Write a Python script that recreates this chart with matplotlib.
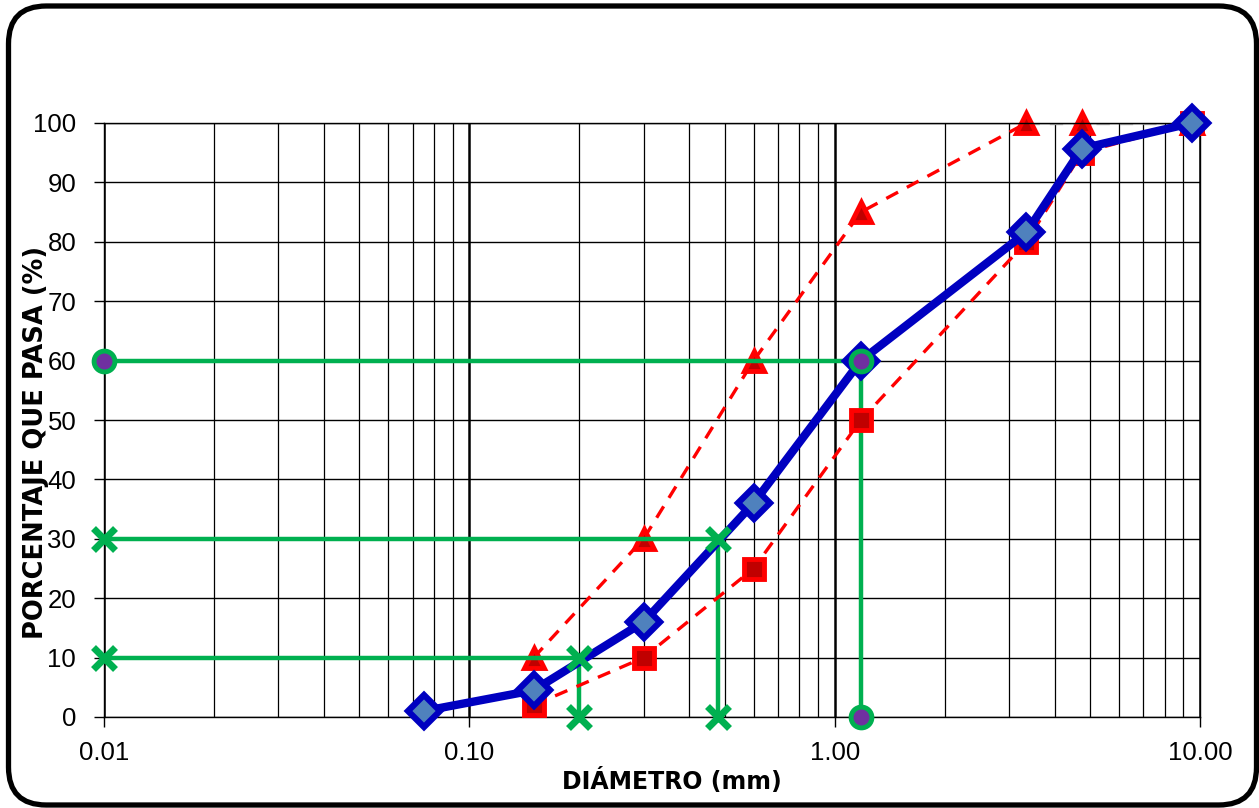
import numpy as np
import matplotlib
matplotlib.use("Agg")
import matplotlib.pyplot as plt
from matplotlib.patches import FancyBboxPatch
from matplotlib.ticker import FixedLocator, LogLocator, NullFormatter

# sieve openings (mm) and % passing
diam = [0.075, 0.15, 0.30, 0.60, 1.18, 3.35, 4.75, 9.50]
pasa = [1.0, 4.5, 16.0, 36.0, 60.0, 81.6, 95.7, 100.0]

# gradation limits
lim_d = [0.15, 0.30, 0.60, 1.18, 3.35, 4.75, 9.50]
lim_sup = [10, 30, 60, 85, 100, 100, 100]
lim_inf = [2, 10, 25, 50, 80, 95, 100]

# characteristic diameters D10, D30, D60
d_vals = [0.20, 0.48, 1.18]
d_pct = [10, 30, 60]
x_min = 0.01

xticks = [0.01, 0.1, 1.0, 10.0]
xtick_labels = ["0.01", "0.10", "1.00", "10.00"]
yticks = list(range(0, 101, 10))

fig = plt.figure(figsize=(12.59, 8.08), dpi=100)
ax = fig.add_axes([104/1259, 1 - 717/808, 1096/1259, 594/808])

# outer rounded frame
frame = FancyBboxPatch((8.5/1259, 3/808), 1248/1259, 799/808,
                       boxstyle="round,pad=0,rounding_size=0.03",
                       transform=fig.transFigure, fill=False,
                       edgecolor="black", linewidth=3.8, zorder=0,
                       mutation_aspect=1259/808)
fig.patches.append(frame)

ax.set_xscale("log")
ax.set_xlim(0.01, 10)
ax.set_ylim(0, 100)

# grid
ax.xaxis.set_major_locator(FixedLocator(xticks))
ax.xaxis.set_minor_locator(LogLocator(base=10, subs=np.arange(2, 10)))
ax.xaxis.set_minor_formatter(NullFormatter())
ax.set_xticks(xticks)
ax.set_xticklabels(xtick_labels)
ax.set_yticks(yticks)
ax.grid(which="major", axis="x", color="black", linewidth=1.8)
ax.grid(which="minor", axis="x", color="black", linewidth=0.9)
ax.grid(which="major", axis="y", color="black", linewidth=1.0)
ax.tick_params(axis="x", which="minor", length=0)
ax.tick_params(axis="both", which="major", direction="out", length=7,
               width=1, labelsize=18.5, colors="black")
ax.tick_params(axis="y", pad=13)
ax.tick_params(axis="x", pad=10)
for lab in ax.get_xticklabels() + ax.get_yticklabels():
    lab.set_family("Liberation Sans")
for s in ax.spines.values():
    s.set_color("black")
    s.set_linewidth(1)

green = "#00b050"

# green construction lines for D10, D30, D60
for d, p in zip(d_vals, d_pct):
    ax.plot([x_min, d, d], [p, p, 0], color=green, lw=3.2, zorder=3,
            solid_capstyle="butt")

# upper limit (triangles)
ax.plot(lim_d[:5], lim_sup[:5], color="red", lw=2.4, ls=(0, (4, 3)), zorder=2)
ax.plot(lim_d[4:], lim_sup[4:], color="#a6a6a6", lw=2.4, ls=(0, (4, 3)), zorder=2)
ax.plot(lim_d, lim_sup, ls="none", marker="^", ms=14, mfc="#c00000",
        mec="red", mew=3.5, zorder=2, clip_on=False)

# lower limit (squares)
ax.plot(lim_d, lim_inf, color="red", lw=2.4, ls=(0, (4, 3)), marker="s",
        ms=14, mfc="#c00000", mec="red", mew=3.5, zorder=4, clip_on=False)

# grading curve
ax.plot(diam, pasa, color="#0000c0", lw=6, marker="D", ms=16,
        mfc="#4f81bd", mec="#0000c0", mew=4.5, zorder=5, clip_on=False)

# end markers of the construction lines
ax.plot([x_min, d_vals[2], d_vals[2]], [d_pct[2], d_pct[2], 0], ls="none",
        marker="o", ms=15, mfc="#7030a0", mec=green, mew=3.5, zorder=6,
        clip_on=False)
for d, p in zip(d_vals[:2], d_pct[:2]):
    ax.plot([x_min, d, d], [p, p, 0], ls="none", marker="x", ms=16,
            mec=green, mew=5, zorder=6, clip_on=False)

ax.set_xlabel("DIÁMETRO (mm)", fontsize=17, fontweight="bold",
              family="DejaVu Sans")
ax.set_ylabel("PORCENTAJE QUE PASA (%)", fontsize=18.5, fontweight="bold",
              family="DejaVu Sans")
ax.xaxis.set_label_coords(0.518, -0.086)
ax.yaxis.set_label_coords(-0.050, 0.463)

fig.savefig("out.png", dpi=100)
